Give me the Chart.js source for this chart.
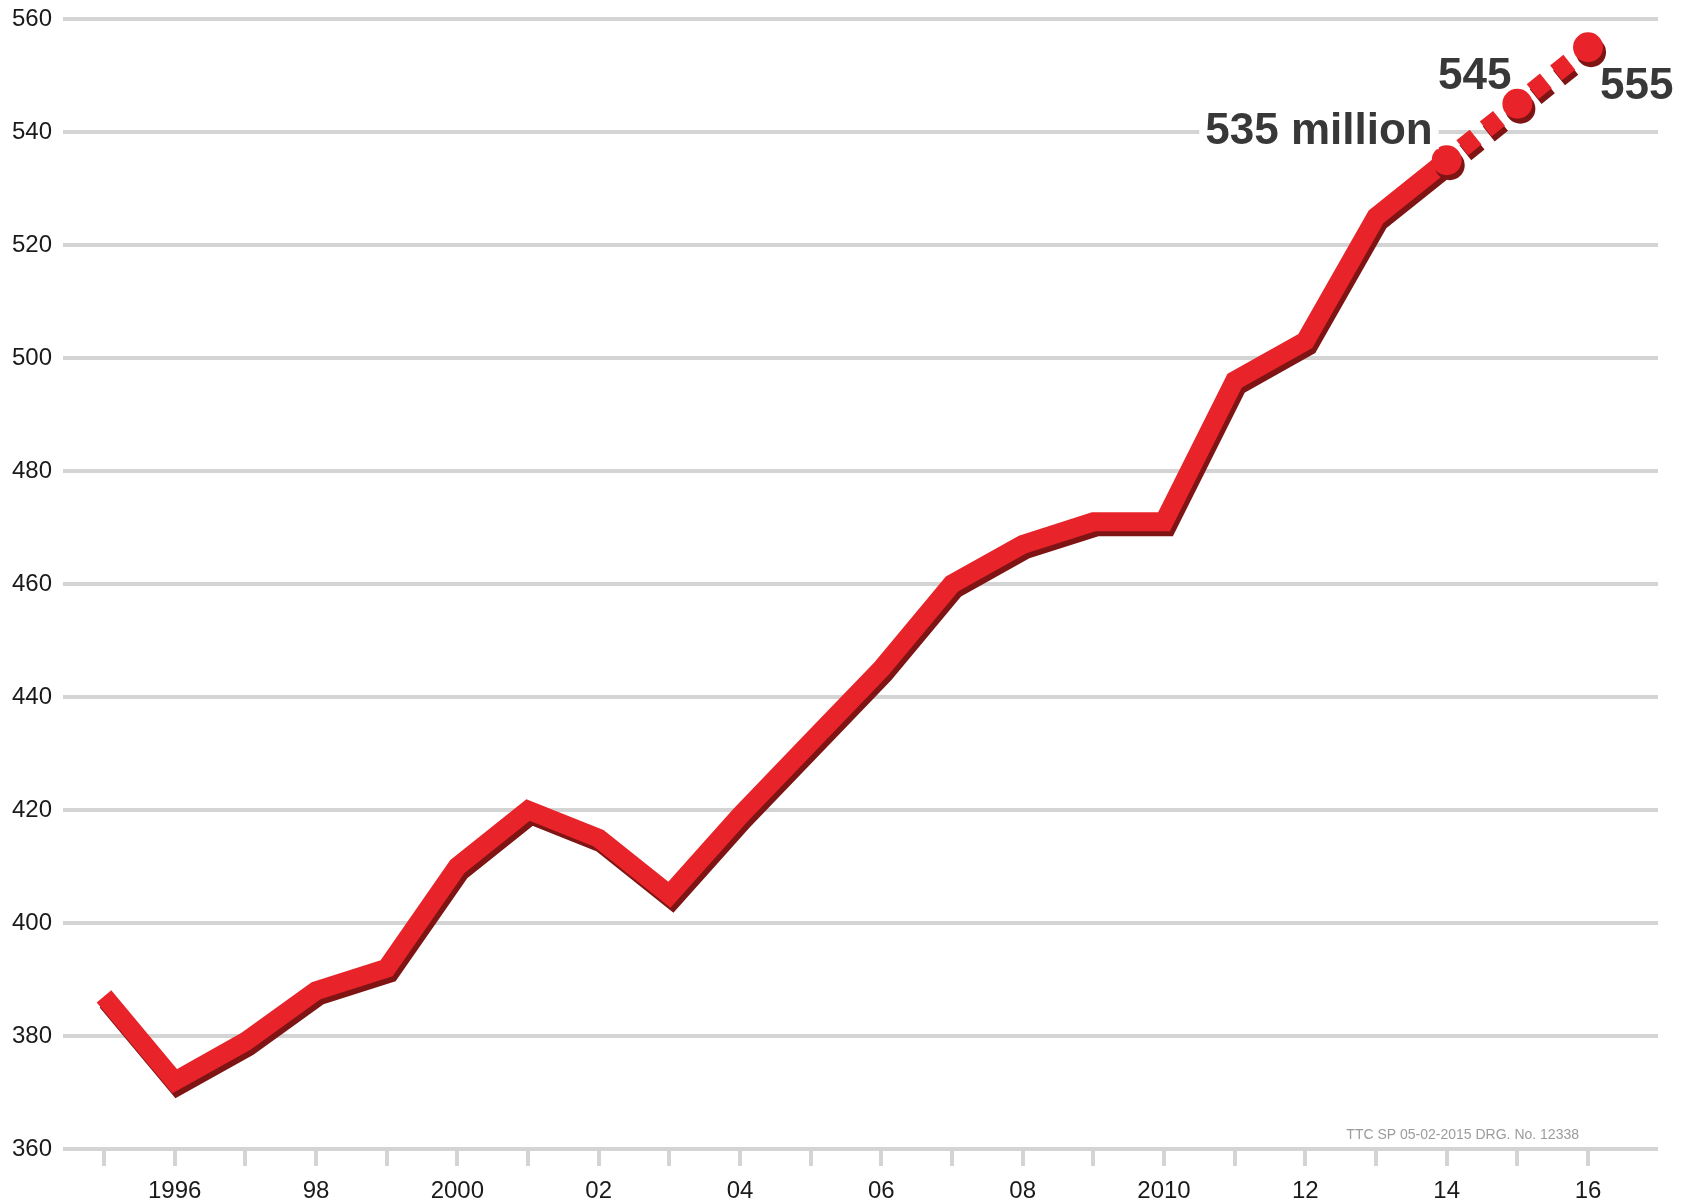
<!DOCTYPE html>
<html>
<head>
<meta charset="utf-8">
<title>Passengers, millions</title>
<script src="https://cdn.jsdelivr.net/npm/chart.js@4.4.1/dist/chart.umd.min.js"></script>
<style>
  html, body { margin: 0; padding: 0; background: #fff; }
  #wrap { width: 1688px; height: 1202px; position: relative; }
</style>
</head>
<body>
<div id="wrap"><canvas id="passengerChart"></canvas></div>
<script>
var years = [1995, 1996, 1997, 1998, 1999, 2000, 2001, 2002, 2003, 2004, 2005,
             2006, 2007, 2008, 2009, 2010, 2011, 2012, 2013, 2014, 2015, 2016];
var passengers = [387, 372, 379, 388, 392, 410, 420, 415, 405, 419, 432,
                  445, 460, 467, 471, 471, 496, 503, 525, 535, 545, 555];
var yearLabels = ['', '1996', '', '98', '', '2000', '', '02', '', '04', '',
                  '06', '', '08', '', '2010', '', '12', '', '14', '', '16'];
var calloutYears = [2014, 2015, 2016];
var calloutTexts = ['535 million', '545', '555'];
var forecastFrom = 2014;
var sourceNote = 'TTC SP 05-02-2015 DRG. No. 12338';

var RED = '#e8242a';
var GRID = '#d4d4d4';
var FONT = '"Liberation Sans", Arial, Helvetica, sans-serif';

// where each callout sits relative to its point
var calloutPlace = [
	{ align: 'right', dx: -14, dy: -16 },
	{ align: 'right', dx: -6,  dy: -15 },
	{ align: 'left',  dx: 12,  dy: 52 }
];

var points = years.map(function(yr, i){ return { x: yr, y: passengers[i] }; });

var shadowPlugin = {
	id: 'lineShadow',
	beforeDatasetDraw: function(chart){
		var c = chart.ctx;
		c.save();
		c.shadowColor = '#7e1414';
		c.shadowOffsetX = 3;
		c.shadowOffsetY = 5;
		c.shadowBlur = 0;
	},
	afterDatasetDraw: function(chart){
		chart.ctx.restore();
	}
};

var calloutPlugin = {
	id: 'callouts',
	afterDatasetsDraw: function(chart){
		var c = chart.ctx;
		var xs = chart.scales.x, ys = chart.scales.y;
		c.save();
		c.font = 'bold 44px ' + FONT;
		c.textBaseline = 'alphabetic';
		calloutYears.forEach(function(yr, i){
			var idx = years.indexOf(yr);
			var px = xs.getPixelForValue(yr);
			var py = ys.getPixelForValue(passengers[idx]);
			var p = calloutPlace[i];
			var tx = px + p.dx, ty = py + p.dy;
			var w = c.measureText(calloutTexts[i]).width;
			var left = p.align === 'right' ? tx - w : tx;
			if (i === 0) {
				c.fillStyle = '#fff';
				c.fillRect(left - 6, ty - 35, w + 12, 40);
			}
			c.fillStyle = '#383838';
			c.textAlign = p.align;
			c.fillText(calloutTexts[i], tx, ty);
		});
		c.restore();
	},
	afterDraw: function(chart){
		var c = chart.ctx, a = chart.chartArea;
		c.save();
		c.font = '14px ' + FONT;
		c.fillStyle = '#9c9c9c';
		c.textAlign = 'right';
		c.textBaseline = 'alphabetic';
		c.fillText(sourceNote, a.right - 79, a.bottom - 10);
		c.restore();
	}
};

var ctx = document.getElementById('passengerChart').getContext('2d');
var passengerChart = new Chart(ctx, {
	type: 'line',
	data: {
		datasets: [{
			data: points,
			borderColor: RED,
			borderWidth: 19,
			borderCapStyle: 'butt',
			borderJoinStyle: 'miter',
			tension: 0,
			fill: false,
			clip: false,
			pointRadius: function(c){
				return c.raw && calloutYears.indexOf(c.raw.x) >= 0 ? 15 : 0;
			},
			pointBackgroundColor: RED,
			pointBorderWidth: 0,
			pointHoverRadius: 0,
			segment: {
				borderDash: function(c){
					return c.p0.parsed.x >= forecastFrom ? [17, 13] : undefined;
				},
				borderDashOffset: function(c){
					return c.p0.parsed.x >= forecastFrom ? 10 : 0;
				}
			}
		}]
	},
	options: {
		responsive: true,
		maintainAspectRatio: false,
		animation: false,
		layout: { padding: { top: 19, right: 30, bottom: 0, left: 0 } },
		plugins: {
			legend: { display: false },
			tooltip: { enabled: false }
		},
		scales: {
			x: {
				type: 'linear',
				min: 1994.42,
				max: 2016.99,
				afterBuildTicks: function(scale){
					scale.ticks = years.map(function(v){ return { value: v }; });
				},
				afterFit: function(scale){
					scale.height = 53;
					scale.paddingLeft = 0;
					scale.paddingRight = 0;
				},
				ticks: {
					autoSkip: false,
					maxRotation: 0,
					padding: 11,
					color: '#1a1a1a',
					font: { family: FONT, size: 24 },
					callback: function(value){
						var i = years.indexOf(value);
						return i >= 0 ? yearLabels[i] : '';
					}
				},
				grid: {
					drawOnChartArea: false,
					drawTicks: true,
					tickLength: 17,
					color: GRID,
					lineWidth: 4
				},
				border: { display: false }
			},
			y: {
				min: 360,
				max: 560,
				afterFit: function(scale){
					scale.width = 63;
					scale.paddingTop = 0;
					scale.paddingBottom = 0;
				},
				ticks: {
					stepSize: 20,
					padding: 11,
					color: '#1a1a1a',
					font: { family: FONT, size: 24 }
				},
				grid: {
					drawTicks: false,
					color: GRID,
					lineWidth: 4
				},
				border: { display: false }
			}
		}
	},
	plugins: [shadowPlugin, calloutPlugin]
});
</script>
</body>
</html>
